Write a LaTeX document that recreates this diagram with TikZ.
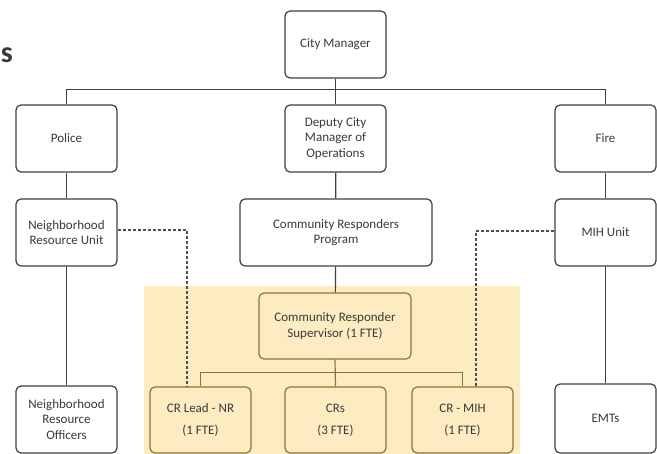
\documentclass[tikz,border=0pt]{standalone}
\usepackage{fontspec}
\setmainfont{Carlito}
\definecolor{boxline}{HTML}{404040}
\definecolor{txt}{HTML}{3A3A3A}
\definecolor{ybline}{HTML}{8C7535}
\definecolor{yfill}{HTML}{FDEBC1}
\definecolor{dashc}{HTML}{505050}
\begin{document}
\begin{tikzpicture}[x=1pt,y=-1pt,
  box/.style={draw=boxline, line width=1.2pt, rounded corners=5pt, fill=white, text=txt,
    align=center, inner sep=0pt, minimum width=101pt, minimum height=67pt,
    font=\fontsize{13}{15.5}\selectfont},
  ybox/.style={box, draw=ybline, fill=yfill},
  link/.style={draw=boxline, line width=1.2pt},
  ylink/.style={draw=ybline, line width=1.2pt},
  dlink/.style={draw=dashc, line width=1.1pt, dash pattern=on 3pt off 2pt}]
\useasboundingbox (0,0) rectangle (657,454);
\fill[white] (0,0) rectangle (657,454);
\fill[yfill] (144,286) rectangle (520,454);

\node[font=\fontsize{30}{30}\selectfont\bfseries, text=txt, anchor=east, inner sep=0pt] (title) at (13,55) {s};

\node[box] (cm) at (335.5,44.5) {City Manager};
\node[box] (police) at (66.5,138.5) {Police};
\node[box] (deputy) at (335.5,138.5) {Deputy City\\Manager of\\Operations};
\node[box] (fire) at (605.5,138.5) {Fire};
\node[box] (nru) at (66.5,232.5) {Neighborhood\\Resource Unit};
\node[box, minimum width=192pt] (crp) at (336,232.5) {Community Responders\\Program};
\node[box] (mih) at (605.5,232.5) {MIH Unit};
\node[ybox, minimum width=152pt, minimum height=66pt] (sup) at (335,326) {Community Responder\\Supervisor (1 FTE)};
\node[ybox, minimum height=66pt] (lead) at (200.5,420) {CR Lead - NR\\[6pt](1 FTE)};
\node[ybox, minimum height=66pt] (crs) at (335.5,420) {CRs\\[6pt](3 FTE)};
\node[ybox, minimum height=66pt] (crmih) at (462.5,420) {CR - MIH\\[6pt](1 FTE)};
\node[box] (nro) at (66.5,419.5) {Neighborhood\\Resource\\Officers};
\node[box, minimum height=69pt] (emts) at (605.5,418.5) {EMTs};

\draw[link] (cm.south) -- (deputy.north);
\draw[link] (police.north) -- ++(0,-14.5) -| (fire.north);
\draw[link] (police) -- (nru);
\draw[link] (nru) -- (nro);
\draw[link] (fire) -- (mih);
\draw[link] (mih) -- (emts);
\draw[link] (deputy) -- (crp);
\draw[link] (crp) -- (sup);
\draw[ylink] (sup.south) -- (crs.north);
\draw[ylink] (lead.north) -- ++(0,-14) -| (crmih.north);

\draw[dlink] ([yshift=2.5pt]nru.east) -| ([xshift=-13.5pt]lead.north);
\draw[dlink] ([yshift=1.5pt]mih.west) -| ([xshift=13.5pt]crmih.north);
\end{tikzpicture}
\end{document}
